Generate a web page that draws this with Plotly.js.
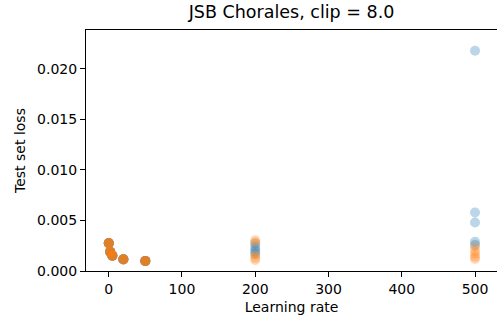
<!DOCTYPE html>
<html>
<head>
<meta charset="utf-8">
<script src="https://cdn.plot.ly/plotly-3.0.1.min.js"></script>
<style>html,body{margin:0;padding:0;background:#fff;}#chart{width:497px;height:322px;}</style>
</head>
<body>
<div id="chart"></div>
<script>
// Learning rates and test losses (one point per run)
const lrBlue   = [0.1, 0.1, 0.1, 0.1, 0.1, 2, 2, 2, 2, 2, 5, 5, 5, 5, 5, 20, 20, 20, 20, 20, 50, 50, 50, 50, 50, 200, 200, 200, 200, 200, 500, 500, 500, 500, 500];
const lossBlue = [0.00276, 0.00273, 0.00278, 0.00275, 0.00277,
                  0.00191, 0.00188, 0.00190, 0.00192, 0.00189,
                  0.00152, 0.00150, 0.00151, 0.00153, 0.00151,
                  0.00116, 0.00115, 0.00117, 0.00116, 0.00115,
                  0.00099, 0.00100, 0.00098, 0.00099, 0.00100,
                  0.00270, 0.00240, 0.00215, 0.00190, 0.00170,
                  0.02180, 0.00580, 0.00480, 0.00290, 0.00260];
const lrOrange   = [0.1, 0.1, 0.1, 0.1, 0.1, 2, 2, 2, 2, 2, 5, 5, 5, 5, 5, 20, 20, 20, 20, 20, 50, 50, 50, 50, 50, 200, 200, 200, 200, 200, 500, 500, 500, 500, 500];
const lossOrange = [0.00275, 0.00277, 0.00274, 0.00276, 0.00275,
                    0.00190, 0.00192, 0.00189, 0.00191, 0.00190,
                    0.00151, 0.00153, 0.00152, 0.00150, 0.00152,
                    0.00116, 0.00117, 0.00115, 0.00116, 0.00117,
                    0.00099, 0.00098, 0.00100, 0.00099, 0.00098,
                    0.00305, 0.00285, 0.00160, 0.00130, 0.00110,
                    0.00240, 0.00200, 0.00170, 0.00140, 0.00120];

const axisFont = {family: 'DejaVu Sans', size: 14, color: '#000'};

const traces = [
  {x: lrBlue, y: lossBlue, type: 'scatter', mode: 'markers',
   marker: {color: '#1f77b4', opacity: 0.3, size: 10, line: {width: 0}}, hoverinfo: 'none'},
  {x: lrOrange, y: lossOrange, type: 'scatter', mode: 'markers',
   marker: {color: '#ff7f0e', opacity: 0.3, size: 10, line: {width: 0}}, hoverinfo: 'none'}
];

const layout = {
  width: 497, height: 322,
  margin: {l: 86, r: 0, t: 30, b: 51},
  paper_bgcolor: '#fff', plot_bgcolor: '#fff',
  showlegend: false,
  font: axisFont,
  title: {text: 'JSB Chorales, clip = 8.0', font: {family: 'DejaVu Sans', size: 17.5, color: '#000'},
          x: 0.5, xref: 'paper', xanchor: 'center', y: 1, yref: 'container', yanchor: 'top', pad: {t: 6}},
  xaxis: {
    range: [-31, 530], tickmode: 'linear', tick0: 0, dtick: 100,
    showgrid: false, zeroline: false, showline: true, linecolor: '#000', linewidth: 1, mirror: true,
    ticks: 'outside', ticklen: 5, tickwidth: 1, tickcolor: '#000',
    tickfont: axisFont,
    title: {text: 'Learning rate', font: axisFont, standoff: 6}
  },
  yaxis: {
    range: [0, 0.02386], tickmode: 'linear', tick0: 0, dtick: 0.005, tickformat: '.3f',
    showgrid: false, zeroline: false, showline: true, linecolor: '#000', linewidth: 1, mirror: false,
    ticks: 'outside', ticklen: 5, tickwidth: 1, tickcolor: '#000',
    tickfont: axisFont,
    title: {text: 'Test set loss', font: axisFont, standoff: 8}
  }
};

Plotly.newPlot('chart', traces, layout, {staticPlot: true, displayModeBar: false});
</script>
</body>
</html>
